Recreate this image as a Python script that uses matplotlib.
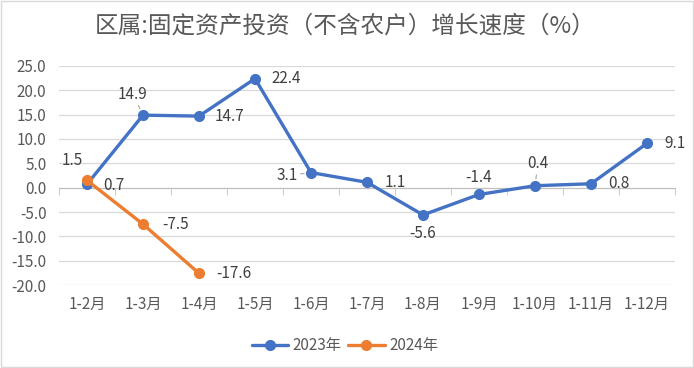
import numpy as np
import matplotlib.pyplot as plt
from matplotlib.patches import Rectangle

plt.rcParams['font.family'] = ['Noto Sans CJK SC', 'DejaVu Sans']

# data
months = ['1-2月', '1-3月', '1-4月', '1-5月', '1-6月', '1-7月',
          '1-8月', '1-9月', '1-10月', '1-11月', '1-12月']
growth_2023 = [0.7, 14.9, 14.7, 22.4, 3.1, 1.1, -5.6, -1.4, 0.4, 0.8, 9.1]
growth_2024 = [1.5, -7.5, -17.6]
yticks = [25, 20, 15, 10, 5, 0, -5, -10, -15, -20]

# label offsets in pixels (dx, dy) and whether a leader line is drawn
offs_2023 = [(27, -1), (-10, 21), (31, 0), (31, 0), (-24, -3), (28, 0),
             (0, -19), (0, 17), (3, 22), (28, 0), (28, 0)]
lead_2023 = [False, True, False, False, True, False, False, False, True, False, False]
offs_2024 = [(-15, 20), (33, 0), (35, 0)]

blue = '#4472C4'
orange = '#ED7D31'
txt = '#404040'
fs = 11

fig = plt.figure(figsize=(6.94, 3.68), dpi=100)
ax = fig.add_axes([0.085, 0.2255, 0.8876, 0.5952])
fig.patches.append(Rectangle((0.001, 0.002), 0.997, 0.996, transform=fig.transFigure,
                             fill=False, edgecolor='#D9D9D9', lw=1))

x = np.arange(len(months))
ax.plot(x, growth_2023, color=blue, lw=2.4, marker='o', ms=7, label='2023年',
        solid_capstyle='round', zorder=3)
ax.plot(x[:len(growth_2024)], growth_2024, color=orange, lw=2.4, marker='o', ms=7,
        label='2024年', solid_capstyle='round', zorder=4)

for i, v in enumerate(growth_2023):
    ap = dict(arrowstyle='-', color='#A6A6A6', lw=0.8, shrinkA=0, shrinkB=5) if lead_2023[i] else None
    ax.annotate(f'{v:.1f}', (x[i], v), xytext=offs_2023[i], textcoords='offset pixels',
                ha='center', va='center', fontsize=fs, color=txt, arrowprops=ap, zorder=5)
for i, v in enumerate(growth_2024):
    ax.annotate(f'{v:.1f}', (x[i], v), xytext=offs_2024[i], textcoords='offset pixels',
                ha='center', va='center', fontsize=fs, color=txt, zorder=5)

ax.set_xlim(-0.5, len(months) - 0.5)
ax.set_ylim(-20, 25)
ax.set_yticks(yticks)
ax.set_yticklabels([f'{t:.1f}' for t in yticks])
ax.grid(axis='y', color='#D9D9D9', lw=0.9)
ax.set_axisbelow(True)
ax.tick_params(axis='y', length=0, labelsize=fs, labelcolor='#595959', pad=9)
for s in ['top', 'right', 'left']:
    ax.spines[s].set_visible(False)

# category axis runs along zero with boundary ticks
ax.spines['bottom'].set_position(('data', 0))
ax.spines['bottom'].set_color('#BFBFBF')
ax.set_xticks(x)
ax.set_xticklabels([])
ax.tick_params(axis='x', which='major', length=0)
ax.set_xticks(np.arange(len(months) + 1) - 0.5, minor=True)
ax.tick_params(axis='x', which='minor', length=5, color='#BFBFBF')

sec = ax.secondary_xaxis(0)
sec.set_xticks(x)
sec.set_xticklabels(months)
sec.tick_params(length=0, labelsize=fs, labelcolor='#595959', pad=8)
sec.spines['bottom'].set_visible(False)

fig.text(0.497, 0.928, '区属:固定资产投资（不含农户）增长速度（%）', ha='center', va='center',
         fontsize=17, color='#595959')

ax.legend(loc='upper center', bbox_to_anchor=(0.464, -0.175), ncol=2, frameon=False,
          fontsize=fs, labelcolor='#595959', handlelength=2.4, columnspacing=0.4,
          handletextpad=0.3)

fig.savefig('out.png', dpi=100)
